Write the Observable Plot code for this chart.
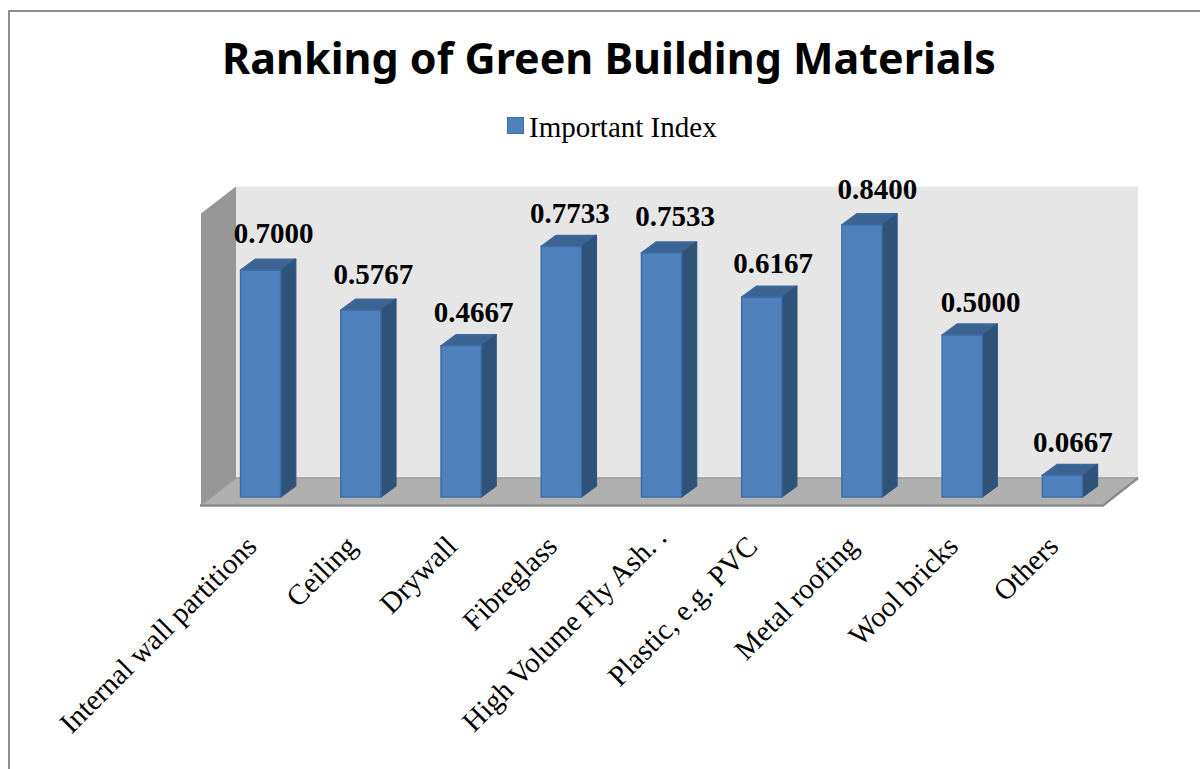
<!DOCTYPE html>
<html><head><meta charset="utf-8">
<script src="https://cdn.jsdelivr.net/npm/d3@7"></script>
<script src="https://cdn.jsdelivr.net/npm/@observablehq/plot@0.6"></script>
<style>
html,body{margin:0;padding:0;background:#fff;overflow:hidden}
#page{position:relative;width:1200px;height:769px;overflow:hidden}
#frame{position:absolute;left:8px;top:10px;right:-4px;bottom:-4px;border-left:2px solid #8f8f8f;border-top:2px solid #8f8f8f;pointer-events:none}
#title{position:absolute;left:0;width:1218px;top:30px;text-align:center;font:bold 43px/56px "Noto Sans",sans-serif;color:#000;white-space:nowrap}
#legend{position:absolute;top:108px;left:507px;display:flex;align-items:center;font:29px/38px "Liberation Serif",serif;color:#000;white-space:nowrap}
#legend i{display:block;width:15px;height:15px;background:#4f81bd;border:1px solid #3d6ea6;margin:0 5px 4px 0}
#chart{position:absolute;left:0;top:150px}
svg{overflow:visible}
</style></head><body>
<div id="page">
<div id="frame"></div>
<div id="title">Ranking of Green Building Materials</div>
<div id="legend"><i></i><span>Important Index</span></div>
<div id="chart"></div>
</div>
<script>
const materials = ["Internal wall partitions","Ceiling","Drywall","Fibreglass","High Volume Fly Ash. .","Plastic, e.g. PVC","Metal roofing","Wool bricks","Others"];
const importantIndex = [0.7000,0.5767,0.4667,0.7733,0.7533,0.6167,0.8400,0.5000,0.0667];
const seriesName = "Important Index";

const rows = materials.map((name,i)=>({name,value:importantIndex[i]}));

// oblique projection of the 3-D chart box, in pixels
const floorDepth = [35,27], barShift = [9.5,8], barDepth = [15,11];
// hand placement of each value label relative to its bar, as in the reference
const labelNudge = [[-.5,-1],[-1,0],[-1,2],[-5,3],[0,-1],[-2,2],[2,0],[5,3],[-3,3]];
const shiftedTick = materials[4];
const poly = (g,pts,fill,stroke) => g.append("polygon")
  .attr("points",pts.map(p=>p.join(",")).join(" "))
  .attr("fill",fill).attr("stroke",stroke||"none").attr("stroke-width",stroke?1.5:0).attr("stroke-linejoin","round");

function box(index,{x,y},values,dim){
  const g = d3.create("svg:g");
  const [dx,dy] = floorDepth;
  const l = x.range()[0], r = x.range()[1], b = y(0), t = y(y.domain()[1]);
  poly(g,[[l+dx,t-dy],[r+dx,t-dy],[r+dx,b-dy],[l+dx,b-dy]],"#e6e6e6");
  poly(g,[[l,t],[l+dx,t-dy],[l+dx,b-dy],[l,b]],"#969696");
  poly(g,[[l,b],[l+dx,b-dy],[r+dx,b-dy],[r,b]],"#b0b0b0");
  g.append("path").attr("d",`M${l},${b}L${l+dx},${b-dy}H${r+dx}`).attr("fill","none").attr("stroke","#9a9a9a").attr("stroke-width",1.5);
  g.append("path").attr("d",`M${l-1},${b+.5}H${r}L${r+dx},${b-dy}`).attr("fill","none").attr("stroke","#8c8c8c").attr("stroke-width",2.5);
  return g.node();
}

function barFaces(index,{x,y},values,dim,ctx,next){
  const g = d3.create("svg:g");
  const w = x.bandwidth(), [ox,oy] = barShift, [dx,dy] = barDepth;
  for (const i of index){
    const a = x(rows[i].name)+ox, c = a+w, top = y(rows[i].value)-oy, bot = y(0)-oy;
    poly(g,[[a,top],[a+dx,top-dy],[c+dx,top-dy],[c,top]],"#3b6493","#3f6a9c");
    poly(g,[[c,top],[c+dx,top-dy],[c+dx,bot-dy],[c,bot]],"#2f5279","#325680");
  }
  g.append(()=>next(index,{x,y},values,dim,ctx));
  return g.node();
}

const axisStyle = {tickSize:0,tickRotate:-45,tickPadding:36,fontSize:29,fontFamily:"Liberation Serif",fill:"#000",label:null,textOverflow:null,lineWidth:Infinity};

const chart = Plot.plot({
  width:1200, height:619,
  marginLeft:201, marginRight:97, marginTop:63.4, marginBottom:264,
  style:{background:"transparent",overflow:"visible"},
  x:{domain:materials,paddingInner:0.6,paddingOuter:0.3,round:false,label:null},
  y:{domain:[0,0.9],label:null},
  marks:[
    box,
    Plot.barY(rows,{x:"name",y:"value",fill:"#4f81bd",stroke:"#3d6ea6",strokeWidth:1.5,dx:barShift[0],dy:-barShift[1],render:barFaces}),
    ...rows.map((r,i)=>Plot.text([r],{x:"name",y:"value",text:d=>d.value.toFixed(4),dx:22.5+labelNudge[i][0],dy:-44+labelNudge[i][1],fontSize:29,fontWeight:"bold",fontFamily:"Liberation Serif",fill:"#000"})),
    Plot.axisX(materials.filter(m=>m!==shiftedTick),axisStyle),
    Plot.axisX([shiftedTick],{...axisStyle,dx:9,dy:-9}),
    Plot.axisY({ticks:[],label:null})
  ]
});
document.getElementById("chart").append(chart);
</script></body></html>
